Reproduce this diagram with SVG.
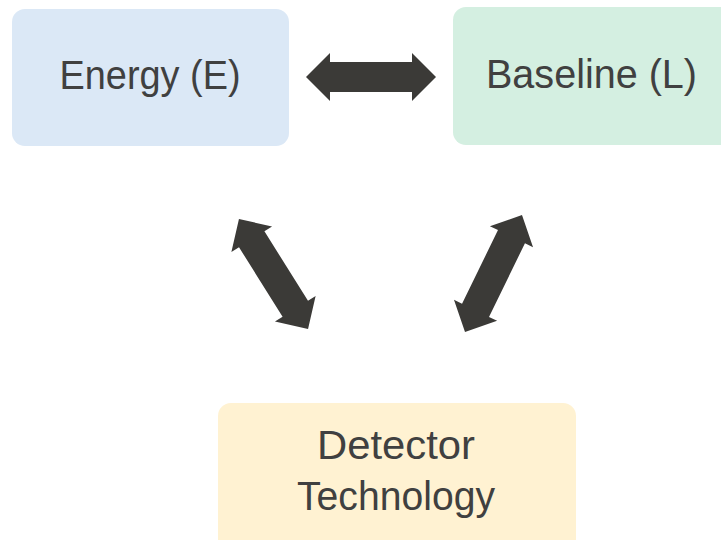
<svg xmlns="http://www.w3.org/2000/svg" width="721" height="540" viewBox="0 0 721 540">
  <style>
    .label { font-family: "Liberation Sans", Arial, sans-serif; font-size: 41px; fill: #404040; text-anchor: middle; }
    .arrow { fill: #3b3a37; }
  </style>
  <defs>
    <!-- double-headed block arrow, 130 long, centred on the origin -->
    <path id="dbl-arrow" d="M-65,0 L-41,-24 L-41,-15 L41,-15 L41,-24 L65,0 L41,24 L41,15 L-41,15 L-41,24 Z"/>
  </defs>
  <rect width="721" height="540" fill="#ffffff"/>

  <g id="energy">
    <rect x="12" y="9" width="277" height="137" rx="13" fill="#dbe8f6"/>
    <text class="label" x="150" y="88.5" textLength="181" lengthAdjust="spacingAndGlyphs">Energy (E)</text>
  </g>

  <g id="baseline">
    <rect x="453" y="7" width="290" height="138" rx="13" fill="#d4efe1"/>
    <text class="label" x="591.5" y="88" textLength="211" lengthAdjust="spacingAndGlyphs">Baseline (L)</text>
  </g>

  <g id="detector">
    <rect x="218" y="403" width="358" height="150" rx="13" fill="#fff2d2"/>
    <text class="label" x="396" y="458.5" textLength="158" lengthAdjust="spacingAndGlyphs">Detector</text>
    <text class="label" x="396" y="510" textLength="198" lengthAdjust="spacingAndGlyphs">Technology</text>
  </g>

  <g id="connectors" class="arrow">
    <use href="#dbl-arrow" transform="translate(371,77)"/>
    <use href="#dbl-arrow" transform="translate(273.5,274) rotate(57.9)"/>
    <use href="#dbl-arrow" transform="translate(493.5,273.5) rotate(116)"/>
  </g>
</svg>
